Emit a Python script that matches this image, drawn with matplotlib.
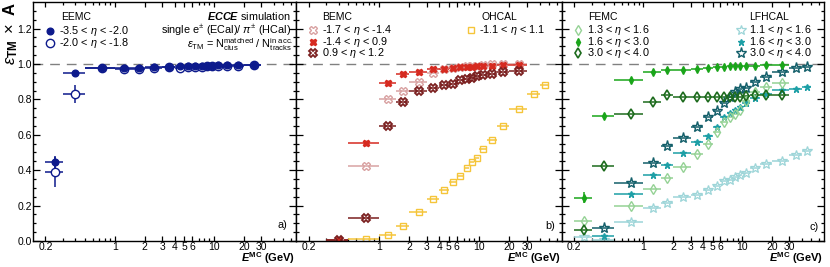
import numpy as np
import matplotlib
matplotlib.use('Agg')
from matplotlib import pyplot as plt
from matplotlib.ticker import FixedLocator, NullFormatter, FixedFormatter

plt.rcParams['font.family'] = ['Liberation Sans', 'DejaVu Sans']
plt.rcParams['mathtext.fontset'] = 'custom'
plt.rcParams['mathtext.rm'] = 'Liberation Sans'
plt.rcParams['mathtext.it'] = 'Liberation Sans:italic'
plt.rcParams['mathtext.bf'] = 'Liberation Sans:bold'
plt.rcParams['mathtext.bfit'] = 'Liberation Sans:bold:italic'

# energy bins (GeV)
bin_edges = [0.2, 0.3, 0.5, 1.0, 1.5, 2, 3, 4, 5, 6, 7, 8, 9, 10, 12, 15, 20, 30, 40, 50]
nan = np.nan

# panel a: EEMC, values start at bin 0
eemc_bwd = [0.445, 0.947, 0.979, 0.979, 0.980, 0.985, 0.985, 0.988, 0.990, 0.990,
            0.991, 0.991, 0.991, 0.992, 0.993, 0.995, 0.996]
eemc_bwd_err = [0.035, 0.006, 0, 0, 0, 0, 0, 0, 0, 0, 0, 0, 0, 0, 0, 0, 0]
eemc_mid = [0.392, 0.830, 0.975, 0.970, 0.970, 0.980, 0.985, 0.980, 0.985, 0.985,
            0.985, 0.988, 0.990, 0.990, 0.990, 0.990, 0.995]
eemc_mid_err = [0.085, 0.052, 0, 0, 0, 0, 0, 0, 0, 0, 0, 0, 0, 0, 0, 0, 0]

# panel b: BEMC / OHCAL, values start at bin 1 (BEMC) and bin 2 (OHCAL)
bemc_bwd = [0.0, 0.425, 0.804, 0.849, 0.900, 0.947, 0.972, 0.978, 0.983, 0.986,
            0.988, 0.990, 0.992, 0.998, 0.998, 1.0]
bemc_cen = [0.005, 0.555, 0.891, 0.942, 0.957, 0.972, 0.972, 0.977, 0.981, 0.983,
            0.985, 0.987, 0.989, 0.990, 0.992, 0.994]
bemc_fwd = [0.005, 0.13, 0.65, 0.784, 0.849, 0.863, 0.881, 0.885, 0.910, 0.917,
            0.920, 0.932, 0.936, 0.944, 0.955, 0.962]
ohcal = [0.01, 0.034, 0.085, 0.164, 0.237, 0.288, 0.335, 0.369, 0.41, 0.444,
         0.47, 0.518, 0.571, 0.65, 0.748, 0.829, 0.881]

# panel c: FEMC / LFHCAL
femc_low = [0.115, nan, 0.198, 0.292, 0.354, 0.42, 0.49, 0.546, 0.614, 0.674,
            0.702, 0.72, 0.74, 0.79, 0.84, 0.868, 0.894]
femc_mid = [0.245, 0.708, 0.91, 0.955, 0.968, 0.968, 0.973, 0.979, 0.982, 0.984,
            0.986, 0.987, 0.988, 0.989, 0.990, 0.993, 0.996]
femc_mid_err = [0.03, 0.01, 0, 0, 0, 0, 0, 0, 0, 0, 0, 0, 0, 0, 0, 0, 0]
femc_high = [0.062, 0.425, 0.716, 0.784, 0.827, 0.812, 0.814, 0.812, 0.814, 0.812,
             0.814, 0.815, 0.814, 0.817, 0.825, 0.825, 0.825]
lfhcal_low = [0.02, 0.005, 0.109, 0.185, 0.213, 0.25, 0.26, 0.288, 0.311, 0.339,
              0.345, 0.36, 0.373, 0.386, 0.41, 0.433, 0.454, 0.486, 0.51]
lfhcal_mid = [0.03, 0.266, 0.373, 0.429, 0.499, 0.558, 0.593, 0.646, 0.702, 0.721,
              0.74, 0.759, 0.778, 0.806, 0.83, 0.853, 0.858, 0.868]
lfhcal_high = [0.072, 0.326, 0.439, 0.538, 0.58, 0.646, 0.699, 0.734, 0.778, 0.812,
               0.844, 0.857, 0.862, 0.9, 0.928, 0.957, 0.975, 0.985]

xtick_vals = [0.2, 1, 2, 3, 4, 5, 6, 10, 20, 30]
xtick_labels = ['0.2', '1', '2', '3', '4', '5', '6', '10', '20', '30']
ytick_vals = [0.0, 0.2, 0.4, 0.6, 0.8, 1.0, 1.2]

W, H = 830, 267
fig = plt.figure(figsize=(W / 100, H / 100), dpi=100)


def fx(px):
    return px / W


def fy(py):
    return 1 - py / H


def make_axes(x0, x1):
    ax = fig.add_axes([fx(x0), fy(241), fx(x1 - x0), (241 - 2) / H])
    ax.set_xscale('log')
    ax.set_xlim(0.15, 67)
    ax.set_ylim(0, 1.35)
    ax.xaxis.set_major_locator(FixedLocator(xtick_vals))
    ax.xaxis.set_major_formatter(FixedFormatter(xtick_labels))
    minors = [0.3, 0.4, 0.5, 0.6, 0.7, 0.8, 0.9, 7, 8, 9, 40, 50, 60]
    ax.xaxis.set_minor_locator(FixedLocator(minors))
    ax.xaxis.set_minor_formatter(NullFormatter())
    ax.yaxis.set_major_locator(FixedLocator(ytick_vals))
    ax.yaxis.set_minor_locator(FixedLocator(np.arange(0, 1.35, 0.05)))
    ax.tick_params(which='both', direction='in', top=True, right=True, labelsize=7.5,
                   width=0.9, pad=0.8)
    ax.tick_params(axis='y', which='major', length=5)
    ax.tick_params(axis='y', which='minor', length=2.5)
    ax.tick_params(axis='x', which='major', length=3.5)
    ax.tick_params(axis='x', which='minor', length=2.5)
    for s in ax.spines.values():
        s.set_linewidth(1.0)
    ax.axhline(1.0, color='#808080', ls=(0, (7, 5)), lw=1.0, zorder=0)
    ax.set_xlabel(r'$\mathbfit{E}^{\mathbf{MC}}$ (GeV)', fontsize=8, fontweight='bold')
    ax.xaxis.set_label_coords(0.995, -0.04)
    ax.xaxis.label.set_horizontalalignment('right')
    ax.xaxis.label.set_verticalalignment('top')
    return ax


ax_a = make_axes(33, 296)
ax_b = make_axes(296, 562)
ax_c = make_axes(562, 824)
ax_b.set_yticklabels([])
ax_c.set_yticklabels([])

fig.text(fx(1), fy(2), r'$\varepsilon_{\mathbf{TM}}\ \times\ \mathbf{A}$', rotation=90,
         ha='left', va='top', fontsize=12)

edges = np.array(bin_edges)
centers = 0.5 * (edges[:-1] + edges[1:])


def draw(ax, vals, start, color, marker, ms, mfc, yerr=None, lw=1.1, mew=1.0):
    vals = np.array(vals, dtype=float)
    idx = np.arange(start, start + len(vals))
    x = centers[idx]
    xlo = x - edges[idx]
    xhi = edges[idx + 1] - x
    ok = ~np.isnan(vals)
    ye = None if yerr is None else np.array(yerr)[ok]
    ax.errorbar(x[ok], vals[ok], xerr=[xlo[ok], xhi[ok]], yerr=ye, fmt=marker,
                color=color, ms=ms, mfc=mfc, mec=color, mew=mew, elinewidth=lw,
                capsize=0, clip_on=True)


def key(px, py, color, marker, ms, mfc, mew=1.0):
    fig.add_artist(plt.Line2D([fx(px)], [fy(py)], marker=marker, color=color, ms=ms,
                              mfc=mfc, mec=color, mew=mew, ls='none',
                              transform=fig.transFigure))


def label(px, py, s, ha='left', size=7.8, **kw):
    fig.text(fx(px), fy(py), s, ha=ha, va='center', fontsize=size, **kw)


# ---- panel a
navy = '#0d1a8c'
draw(ax_a, eemc_mid, 0, navy, 'o', 6, 'white', yerr=eemc_mid_err)
draw(ax_a, eemc_bwd, 0, navy, 'o', 4.8, navy, yerr=eemc_bwd_err)
label(61, 17, 'EEMC', size=7.5)
key(50, 31, navy, 'o', 4.8, navy)
label(59, 31, r'-3.5 < $\eta$ < -2.0')
key(50, 43, navy, 'o', 6, 'white')
label(59, 43, r'-2.0 < $\eta$ < -1.8')
label(291, 16, r'$\mathbfit{ECCE}$ simulation', ha='right')
label(291, 30, r'single e$^{\pm}$ (ECal)/ $\pi^{\pm}$ (HCal)', ha='right')
label(293, 45, r'$\varepsilon_{\mathrm{TM}}$ = N$^{\mathrm{matched}}_{\mathrm{clus}}$ / '
      r'N$^{\mathrm{in\ acc.}}_{\mathrm{tracks}}$', ha='right')
label(277, 225, 'a)')

# ---- panel b
pink, red, dred, yellow = '#d9a3a3', '#d62a20', '#7a1f1f', '#f5c53a'
draw(ax_b, ohcal, 2, yellow, 's', 5, 'none')
draw(ax_b, bemc_bwd, 1, pink, 'X', 6, 'none')
draw(ax_b, bemc_cen, 1, red, 'X', 4.5, red)
draw(ax_b, bemc_fwd, 1, dred, 'X', 6, 'none', mew=1.3)
label(322, 17, 'BEMC', size=7.5)
key(313, 30, pink, 'X', 6, 'none')
label(322, 30, r'-1.7 < $\eta$ < -1.4')
key(313, 42, red, 'X', 4.5, red)
label(322, 42, r'-1.4 < $\eta$ < 0.9')
key(313, 53, dred, 'X', 6, 'none', mew=1.3)
label(322, 53, r'0.9 < $\eta$ < 1.2')
label(481, 17, 'OHCAL', size=7.5)
key(471, 30, yellow, 's', 5, 'none')
label(479, 30, r'-1.1 < $\eta$ < 1.1')
label(545, 226, 'b)')

# ---- panel c
glight, gmid, gdark = '#95d295', '#1aa51a', '#1d6b1d'
clight, cmid, cdark = '#9dd5d8', '#1d9fa6', '#135f6a'
draw(ax_c, lfhcal_low, 0, clight, '*', 7.5, 'none', mew=0.9)
draw(ax_c, lfhcal_mid, 1, cmid, '*', 5, cmid)
draw(ax_c, lfhcal_high, 1, cdark, '*', 8, 'none', mew=1.0)
draw(ax_c, femc_low, 0, glight, 'd', 5.5, 'none')
draw(ax_c, femc_high, 0, gdark, 'd', 5.5, 'none', mew=1.2)
draw(ax_c, femc_mid, 0, gmid, 'd', 4, gmid, yerr=femc_mid_err)
label(588, 17, 'FEMC', size=7.5)
key(578, 30, glight, 'd', 5.5, 'none')
label(587, 30, r'1.3 < $\eta$ < 1.6')
key(578, 42, gmid, 'd', 4, gmid)
label(587, 42, r'1.6 < $\eta$ < 3.0')
key(578, 53, gdark, 'd', 5.5, 'none', mew=1.2)
label(587, 53, r'3.0 < $\eta$ < 4.0')
label(749, 17, 'LFHCAL', size=7.5)
key(741, 30, clight, '*', 7.5, 'none', mew=0.9)
label(749, 30, r'1.1 < $\eta$ < 1.6')
key(741, 42, cmid, '*', 5, cmid)
label(749, 42, r'1.6 < $\eta$ < 3.0')
key(741, 53, cdark, '*', 8, 'none')
label(749, 53, r'3.0 < $\eta$ < 4.0')
label(809, 227, 'c)')

fig.savefig('out.png', dpi=100)
